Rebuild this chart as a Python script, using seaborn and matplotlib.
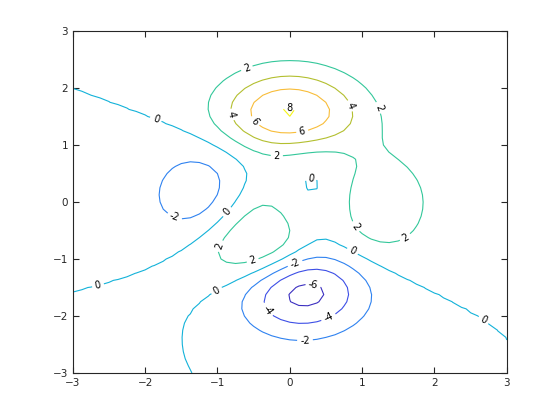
import numpy as np
import matplotlib
matplotlib.use("Agg")
import matplotlib.pyplot as plt
import seaborn as sns

# peaks surface sampled on a 49x49 grid over [-3, 3]
grid_x = np.linspace(-3, 3, 49)
grid_y = np.linspace(-3, 3, 49)
levels = [-6, -4, -2, 0, 2, 4, 6, 8]
level_colors = ["#3b2fc0", "#3d4fe6", "#2f82f0", "#13b2d9",
                "#33c79a", "#b3bf2f", "#f8bd3a", "#f5f517"]
ticks = [-3, -2, -1, 0, 1, 2, 3]

# where the contour labels sit
label_spots = [(-0.6, 2.37), (-0.82, 1.53), (-0.46, 1.44), (0.0, 1.65),
               (0.17, 1.25), (0.82, 1.68), (1.22, 1.65), (-0.18, 0.81),
               (-1.85, 1.46), (0.28, 0.37), (-1.6, -0.28), (-0.86, -0.18),
               (-0.97, -0.77), (-0.51, -1.04), (0.9, -0.44), (1.59, -0.61),
               (0.86, -0.88), (-2.65, -1.47), (-1.0, -1.58), (0.07, -1.07),
               (0.32, -1.49), (-0.3, -1.88), (0.54, -2.04), (0.21, -2.42),
               (2.67, -2.09)]


def peaks(x, y):
    return (3 * (1 - x) ** 2 * np.exp(-x ** 2 - (y + 1) ** 2)
            - 10 * (x / 5 - x ** 3 - y ** 5) * np.exp(-x ** 2 - y ** 2)
            - 1 / 3 * np.exp(-(x + 1) ** 2 - y ** 2))


X, Y = np.meshgrid(grid_x, grid_y)
Z = peaks(X, Y)

sns.set_style("white")
plt.rcParams["font.family"] = ["DejaVu Sans"]

fig = plt.figure(figsize=(5.6, 4.2), dpi=100)
ax = fig.add_axes([0.13, 0.112, 0.775, 0.814])

cs = ax.contour(X, Y, Z, levels=levels, colors=level_colors, linewidths=0.8)
ax.clabel(cs, fmt="%d", fontsize=7, colors="black", inline=True,
          inline_spacing=3, manual=label_spots)

ax.set_xlim(-3, 3)
ax.set_ylim(-3, 3)
ax.set_xticks(ticks)
ax.set_yticks(ticks)
ax.tick_params(direction="in", length=4, width=0.8, labelsize=7.5,
               colors="#262626", top=True, right=True, bottom=True, left=True)
for s in ax.spines.values():
    s.set_color("#262626")
    s.set_linewidth(0.8)

fig.savefig("out.png", dpi=100)
